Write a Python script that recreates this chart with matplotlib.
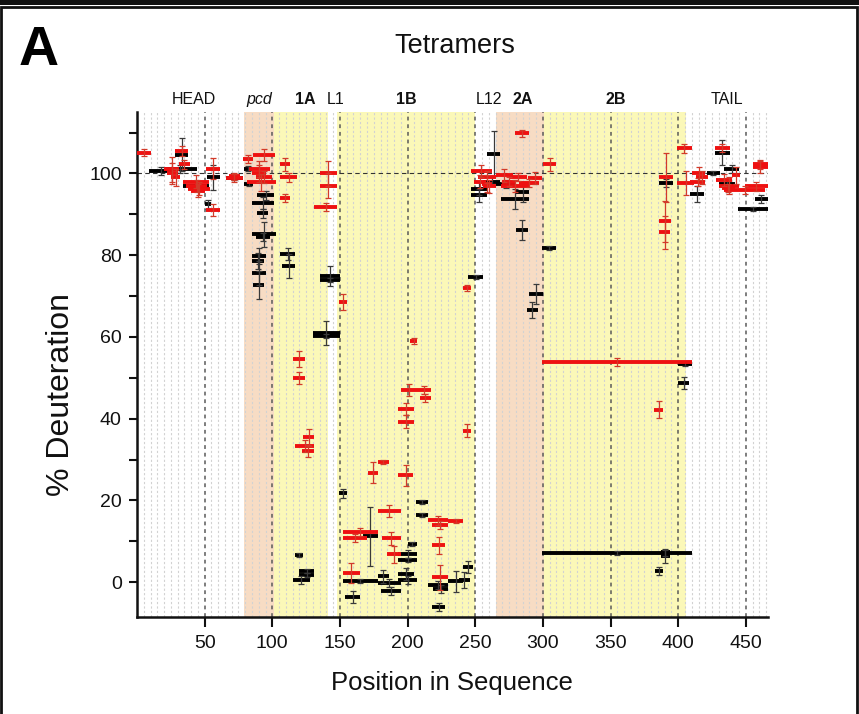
import matplotlib
matplotlib.use("Agg")
import matplotlib.pyplot as plt
from matplotlib.patches import Rectangle
import numpy as np

plt.rcParams['font.family'] = ['Liberation Sans', 'DejaVu Sans']

# Peptide coverage: start residue, end residue, % deuteration, error
red_start = [0, 28, 31, 20, 22, 25, 34, 36, 38, 40, 51, 51, 66, 68,
             78, 86, 83, 85, 81, 88,
             106, 106, 106, 115, 115, 123, 117, 122,
             135, 135, 131, 149,
             152, 152, 152, 171, 178, 178, 181, 185, 193, 193, 195, 207, 209, 202, 193,
             215, 218, 230, 218, 218, 241, 241,
             247, 249, 252, 255, 256, 265, 270, 269, 275, 279, 289, 282, 300,
             299, 382, 386, 386, 386,
             399, 399, 410, 409, 413, 427, 428, 430, 432, 434, 449, 455, 455, 440]
red_end = [10, 38, 39, 31, 30, 32, 53, 52, 54, 50, 61, 61, 78, 76,
           86, 102, 98, 95, 103, 100,
           113, 118, 113, 124, 124, 131, 131, 131,
           148, 148, 148, 155,
           178, 170, 165, 178, 186, 195, 195, 195, 205, 205, 207, 217, 217, 207, 204,
           230, 230, 241, 228, 230, 247, 247,
           262, 258, 265, 262, 265, 278, 280, 290, 288, 290, 299, 297, 310,
           410, 389, 396, 395, 394,
           410, 412, 420, 420, 422, 438, 440, 445, 442, 464, 466, 466, 466, 446]
red_val = [105.1, 105.4, 102.2, 101.0, 100.0, 99.0, 98.0, 97.0, 96.3, 95.8, 101.2, 91.0, 98.8, 99.3,
           103.6, 104.5, 101.0, 100.0, 97.8, 99.2,
           102.2, 99.0, 93.9, 54.6, 50.0, 35.4, 33.4, 32.0,
           100.0, 97.0, 91.7, 68.5,
           12.2, 10.9, 2.2, 26.8, 29.5, 17.4, 10.7, 6.8, 42.4, 39.3, 47.0, 47.0, 45.0, 59.0, 26.1,
           15.1, 13.9, 14.9, 9.0, 1.2, 37.1, 72.0,
           100.5, 98.0, 99.2, 97.5, 96.8, 99.5, 98.0, 97.0, 99.2, 109.8, 98.8, 97.6, 102.2,
           53.9, 42.2, 99.0, 88.3, 85.6,
           106.1, 97.6, 100.0, 97.8, 99.0, 106.3, 98.3, 97.0, 96.5, 95.9, 96.8, 101.5, 102.2, 99.5]
red_err = [0.8, 1.2, 1.0, 3.0, 2.5, 2.0, 1.5, 1.5, 1.5, 1.5, 2.5, 1.5, 1.0, 0.8,
           1.0, 1.5, 2.0, 2.0, 2.0, 1.5,
           1.5, 1.0, 1.0, 2.0, 1.5, 2.0, 1.5, 1.5,
           3.0, 3.0, 1.0, 2.0,
           1.0, 1.0, 2.5, 2.5, 0.5, 1.5, 1.5, 2.0, 1.5, 1.5, 1.5, 1.0, 1.0, 0.8, 2.5,
           1.0, 1.0, 0.5, 2.0, 3.0, 1.5, 0.8,
           1.5, 1.5, 1.5, 2.0, 1.5, 1.5, 1.0, 1.5, 1.0, 0.8, 1.5, 1.0, 1.5,
           1.0, 2.0, 6.0, 5.0, 4.0,
           1.0, 3.0, 1.5, 1.0, 1.5, 1.0, 1.5, 2.0, 1.0, 1.0, 1.0, 1.5, 1.0, 2.0]

black_start = [9, 20, 28, 34, 52, 50, 66,
               79, 79, 89, 85, 89, 85, 88, 85, 85, 85, 86,
               106, 107, 117, 115, 120, 120,
               135, 135, 130, 130,
               149, 152, 154, 167, 178, 178, 180, 193, 193, 193, 193, 200, 206, 206,
               215, 219, 218, 230, 238, 241,
               245, 247, 247, 259, 256,
               269, 280, 280, 290, 288, 299, 265,
               299, 387, 387, 383, 386, 400, 400,
               409, 421, 427, 434, 430, 457, 444]
black_end = [26, 44, 38, 53, 61, 55, 78,
             85, 86, 101, 101, 97, 103, 98, 95, 94, 95, 94,
             117, 117, 123, 128, 131, 131,
             150, 150, 150, 150,
             155, 178, 165, 178, 186, 195, 195, 207, 207, 205, 207, 207, 215, 215,
             230, 230, 228, 241, 246, 248,
             256, 259, 259, 268, 268,
             290, 290, 289, 300, 296, 310, 280,
             410, 394, 394, 389, 396, 410, 408,
             419, 431, 438, 445, 442, 466, 466]
black_val = [100.6, 101.0, 104.6, 97.0, 99.0, 92.4, 98.8,
             101.2, 97.3, 94.6, 92.7, 90.2, 85.1, 84.4, 79.8, 78.5, 75.6, 72.7,
             80.2, 77.3, 6.6, 0.6, 2.7, 1.8,
             74.9, 73.9, 61.0, 60.2,
             21.7, 0.3, -3.6, 11.2, 1.4, -0.2, -2.1, 6.8, 5.4, 2.0, 0.5, 9.3, 19.5, 16.4,
             -0.7, -1.7, -6.1, 0.2, 0.5, 3.7,
             74.6, 96.3, 94.6, 104.8, 98.0,
             93.7, 95.4, 86.1, 70.5, 66.6, 81.7, 97.5,
             7.1, 7.3, 6.3, 2.7, 97.6, 53.4, 48.8,
             94.9, 100.2, 105.1, 101.0, 97.5, 93.7, 91.2]
black_err = [1.0, 1.0, 4.0, 1.0, 3.0, 1.0, 0.5,
             0.5, 0.5, 1.0, 1.5, 1.0, 3.0, 1.0, 2.0, 2.0, 3.0, 3.5,
             1.5, 3.0, 0.5, 1.0, 0.5, 0.5,
             2.5, 0.5, 3.0, 0.5,
             1.0, 0.5, 1.5, 7.3, 1.5, 1.0, 1.0, 1.0, 0.5, 1.5, 1.0, 0.5, 0.5, 0.5,
             1.0, 1.0, 1.0, 2.5, 2.0, 1.5,
             0.5, 1.5, 1.5, 5.5, 1.0,
             2.5, 2.5, 2.5, 2.5, 2.0, 0.5, 1.0,
             0.5, 0.8, 1.5, 1.0, 1.0, 0.5, 1.5,
             2.0, 0.5, 3.0, 1.0, 1.0, 1.0, 0.5]

# Structural domains: (start, end, fill colour) and label positions
domain_spans = [(79, 101, '#f7dcc4'), (101, 141, '#fbf8b8'), (148, 250, '#fbf8b8'),
                (265, 301, '#f7dcc4'), (301, 406, '#fbf8b8')]
domain_labels = ['HEAD', 'pcd', '1A', 'L1', '1B', 'L12', '2A', '2B', 'TAIL']
domain_label_x = [42, 90, 124, 147, 199, 260, 285, 354, 436]
domain_label_style = ['normal', 'italic', 'bold', 'normal', 'bold', 'normal', 'bold', 'bold', 'normal']

fig = plt.figure(figsize=(8.59, 7.14), dpi=100)
ax = fig.add_axes([0.1595, 0.136, 0.734, 0.707])

x_min, x_max = 0, 466
y_min, y_max = -8.5, 115

for s, e, c in domain_spans:
    ax.axvspan(s, e, color=c, zorder=0, lw=0)

# Fine residue grid and coarser dashed grid every 50
for xv in range(5, x_max, 5):
    if xv % 50 == 0:
        ax.axvline(xv, color='#5a5a5a', lw=1.1, ls=(0, (2.5, 2.5)), zorder=1)
    else:
        ax.axvline(xv, color='#d2d2d2', lw=0.8, ls=(0, (2, 2)), zorder=1)
ax.axhline(100, color='#333333', lw=0.8, ls=(0, (4, 3)), zorder=1)


def draw_series(starts, ends, vals, errs, col, ecol, z):
    starts = np.array(starts, float)
    ends = np.array(ends, float)
    vals = np.array(vals, float)
    errs = np.array(errs, float)
    ax.hlines(vals, starts, ends, colors=col, lw=2.8, zorder=z)
    mids = (starts + ends) / 2
    ax.errorbar(mids, vals, yerr=errs, fmt='none', ecolor=ecol, elinewidth=0.9,
                capsize=2.5, capthick=0.9, zorder=z + 0.5)


draw_series(black_start, black_end, black_val, black_err, '#000000', '#3a3a3a', 3)
draw_series(red_start, red_end, red_val, red_err, '#ee1111', '#d23a2a', 4)

ax.set_xlim(x_min, x_max)
ax.set_ylim(y_min, y_max)
ax.set_xticks([50, 100, 150, 200, 250, 300, 350, 400, 450])
ax.set_yticks([0, 20, 40, 60, 80, 100])
ax.set_yticks(np.arange(10, 111, 20), minor=True)
ax.tick_params(axis='both', which='both', direction='out', width=1.5, colors='#111111',
               labelsize=14, labelcolor='#111111')
ax.tick_params(axis='x', length=7, pad=6)
ax.tick_params(axis='y', which='both', length=6, pad=5)
for side in ['top', 'right']:
    ax.spines[side].set_visible(False)
for side in ['left', 'bottom']:
    ax.spines[side].set_linewidth(1.8)
    ax.spines[side].set_color('#111111')

ax.set_xlabel('Position in Sequence', fontsize=18.5, labelpad=14, color='#111111')
ax.set_ylabel('% Deuteration', fontsize=23, color='#111111')
ax.yaxis.set_label_coords(-0.097, 0.44)

for lab, xv, st in zip(domain_labels, domain_label_x, domain_label_style):
    kw = dict(fontsize=11.5, ha='center', va='bottom', color='#111111')
    if st == 'italic':
        kw['fontstyle'] = 'italic'
    elif st == 'bold':
        kw['fontweight'] = 'bold'
    ax.text(xv, 116.3, lab, **kw)

fig.text(0.53, 0.935, 'Tetramers', fontsize=19.5, ha='center', va='center', color='#111111')
fig.text(0.022, 0.928, 'A', fontsize=40, fontweight='bold', ha='left', va='center')

# Panel frame
fig.patches.append(Rectangle((0.001, -0.01), 0.997, 1.0, transform=fig.transFigure,
                             fill=False, edgecolor='#111111', lw=2))
fig.patches.append(Rectangle((0, 0.993), 1, 0.007, transform=fig.transFigure,
                             color='#111111', lw=0))

fig.savefig('out.png', dpi=100)
